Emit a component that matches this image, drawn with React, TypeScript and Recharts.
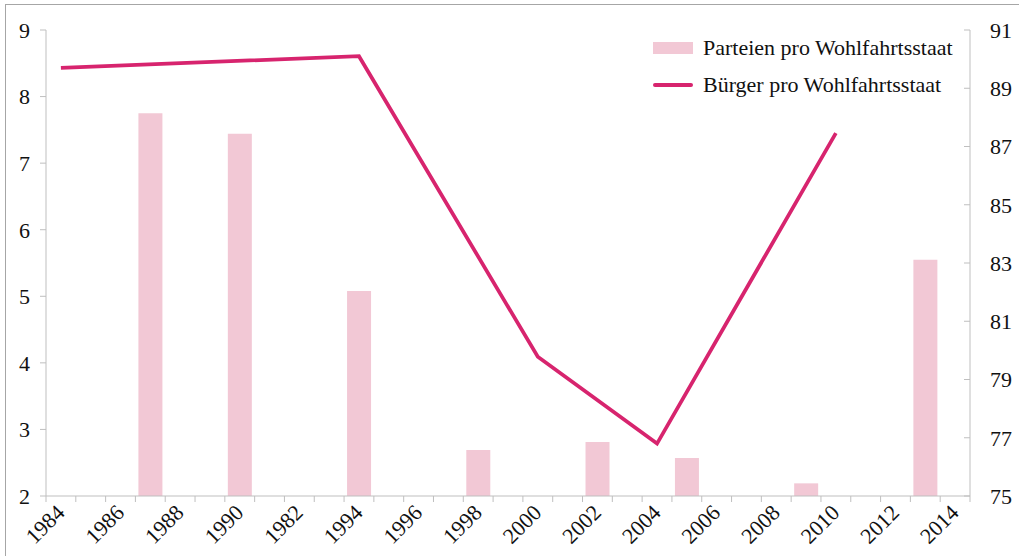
import React from 'react';
import { ComposedChart, Bar, Line, XAxis, YAxis, Legend } from 'recharts';

const years = [
  '1984', '1985', '1986', '1987', '1988', '1989', '1990', '1991', '1992', '1993',
  '1994', '1995', '1996', '1997', '1998', '1999', '2000', '2001', '2002', '2003',
  '2004', '2005', '2006', '2007', '2008', '2009', '2010', '2011', '2012', '2013', '2014',
];
const xTickLabels = [
  '1984', '1986', '1988', '1990', '1982', '1994', '1996', '1998',
  '2000', '2002', '2004', '2006', '2008', '2010', '2012', '2014',
];
const parteienYears = ['1987', '1990', '1994', '1998', '2002', '2005', '2009', '2013'];
const parteienValues = [7.75, 7.44, 5.08, 2.69, 2.81, 2.57, 2.19, 5.55];
const buergerYears = ['1984', '1994', '2000', '2004', '2010'];
const buergerValues = [89.7, 90.1, 79.78, 76.8, 87.46];
const leftTicks = [2, 3, 4, 5, 6, 7, 8, 9];
const rightTicks = [75, 77, 79, 81, 83, 85, 87, 89, 91];

const SERIES_BAR = 'Parteien pro Wohlfahrtsstaat';
const SERIES_LINE = 'Bürger pro Wohlfahrtsstaat';

const data = years.map((y) => {
  const pi = parteienYears.indexOf(y);
  const bi = buergerYears.indexOf(y);
  return {
    year: y,
    parteien: pi >= 0 ? parteienValues[pi] : null,
    buerger: bi >= 0 ? buergerValues[bi] : null,
  };
});

const W = 1019;
const H = 556;
const LEFT_W = 46;
const RIGHT_W = 49;
const PLOT_W = W - LEFT_W - RIGHT_W;
const BAND = PLOT_W / years.length;
const AXIS = '#bfbfbf';
const BAR_COLOR = '#f2c8d5';
const LINE_COLOR = '#d7246e';
const FONT = '"Liberation Serif", "Times New Roman", serif';
const TEXT = '#111';

const XTick = (props: any) => {
  const { x, y, payload } = props;
  const i: number = payload.index;
  const half = BAND / 2;
  const label = i % 2 === 0 ? xTickLabels[i / 2] : null;
  const ax = x + 5;
  const ay = y + 18;
  return (
    <g>
      <line x1={x - half} x2={x - half} y1={y} y2={y + 6} stroke={AXIS} />
      {i === years.length - 1 && <line x1={x + half} x2={x + half} y1={y} y2={y + 6} stroke={AXIS} />}
      {label && (
        <g transform={`translate(${ax},${ay}) rotate(-45)`}>
          <text x={0} y={0} textAnchor="end" fontFamily={FONT} fontSize={22} fill={TEXT}>
            {label}
          </text>
        </g>
      )}
    </g>
  );
};

const RightTick = (props: any) => {
  const { x, y, payload } = props;
  return (
    <g>
      <line x1={x - 6} x2={x} y1={y} y2={y} stroke={AXIS} />
      <text x={x + 20} y={y} dy="0.355em" textAnchor="start" fontFamily={FONT} fontSize={22} fill={TEXT}>
        {payload.value}
      </text>
    </g>
  );
};

const LegendContent = () => (
  <div style={{ fontFamily: FONT, fontSize: 22, color: TEXT }}>
    <div style={{ display: 'flex', alignItems: 'center', height: 37 }}>
      <svg width={40} height={12} style={{ marginRight: 10 }}>
        <rect x={0} y={0} width={40} height={12} fill={BAR_COLOR} />
      </svg>
      <span style={{ whiteSpace: 'nowrap' }}>{SERIES_BAR}</span>
    </div>
    <div style={{ display: 'flex', alignItems: 'center', height: 37 }}>
      <svg width={40} height={12} style={{ marginRight: 10 }}>
        <line x1={2} x2={38} y1={6} y2={6} stroke={LINE_COLOR} strokeWidth={4} strokeLinecap="round" />
      </svg>
      <span style={{ whiteSpace: 'nowrap' }}>{SERIES_LINE}</span>
    </div>
  </div>
);

export default function App() {
  return (
    <div style={{ position: 'absolute', left: 0, top: 0, width: W, height: H, background: '#fff', overflow: 'hidden' }}>
      <div
        style={{
          position: 'absolute',
          left: 5,
          top: 4,
          width: W,
          height: H,
          borderTop: '1px solid #a6a6a6',
          borderLeft: '1px solid #a6a6a6',
        }}
      />
      <div style={{ position: 'absolute', left: 0, top: 0 }}>
        <ComposedChart
          width={W}
          height={H}
          data={data}
          margin={{ top: 30, right: 0, bottom: 0, left: 0 }}
          barCategoryGap="10%"
        >
          <XAxis
            dataKey="year"
            type="category"
            xAxisId="x"
            interval={0}
            height={60}
            tickSize={0}
            tickMargin={0}
            tickLine={false}
            axisLine={{ stroke: AXIS }}
            tick={<XTick />}
          />
          <YAxis
            yAxisId="left"
            orientation="left"
            width={LEFT_W}
            domain={[2, 9]}
            ticks={leftTicks}
            interval={0}
            tickSize={6}
            tickMargin={10}
            axisLine={{ stroke: AXIS }}
            tickLine={{ stroke: AXIS }}
            tick={{ fontFamily: FONT, fontSize: 22, fill: TEXT }}
          />
          <YAxis
            yAxisId="right"
            orientation="right"
            width={RIGHT_W}
            domain={[75, 91]}
            ticks={rightTicks}
            interval={0}
            tickSize={0}
            tickMargin={0}
            tickLine={false}
            axisLine={{ stroke: AXIS }}
            tick={<RightTick />}
          />
          <Legend
            layout="vertical"
            align="center"
            verticalAlign="middle"
            wrapperStyle={{ left: 653, top: 29.5, width: 340, height: 74 }}
            content={() => <LegendContent />}
          />
          <Bar
            xAxisId="x"
            yAxisId="left"
            dataKey="parteien"
            name={SERIES_BAR}
            fill={BAR_COLOR}
            barSize={24}
            isAnimationActive={false}
          />
          <Line
            xAxisId="x"
            yAxisId="right"
            dataKey="buerger"
            name={SERIES_LINE}
            type="linear"
            stroke={LINE_COLOR}
            strokeWidth={3.75}
            dot={false}
            activeDot={false}
            connectNulls
            isAnimationActive={false}
          />
        </ComposedChart>
      </div>
    </div>
  );
}
